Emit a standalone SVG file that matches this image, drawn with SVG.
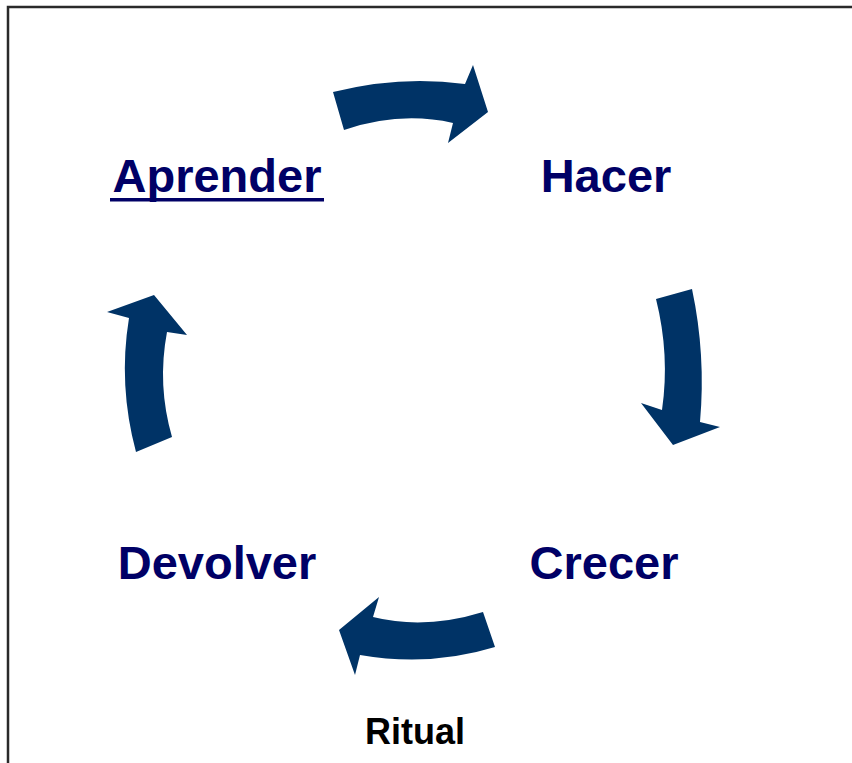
<svg xmlns="http://www.w3.org/2000/svg" width="852" height="763" viewBox="0 0 852 763">
<style>
.lbl{font-family:"Liberation Sans",Arial,sans-serif;font-weight:bold;font-size:47px;fill:#000066;text-anchor:middle}
.rit{font-family:"Liberation Sans",Arial,sans-serif;font-weight:bold;font-size:36px;fill:#000000;text-anchor:middle}
.arr{fill:#003366;stroke:none}
</style>
<rect x="0" y="0" width="852" height="763" fill="#ffffff"/>
<rect x="8" y="7" width="900" height="800" fill="none" stroke="#2a2a2a" stroke-width="2.5"/>
<g id="aprender">
<text class="lbl" x="217" y="192">Aprender</text>
<rect x="110" y="198" width="214" height="3.5" fill="#000066"/>
</g>
<g id="hacer"><text class="lbl" x="606" y="192">Hacer</text></g>
<g id="crecer"><text class="lbl" x="604" y="579">Crecer</text></g>
<g id="devolver"><text class="lbl" x="217" y="579">Devolver</text></g>
<g id="ritual"><text class="rit" x="415" y="744">Ritual</text></g>
<g id="connectors">
<path class="arr" d="M333,92 Q400,75 465,84 L473,65 L488,112 L448,143 L453,123 Q400,111 344,130 Z"/>
<path class="arr" d="M656,299 L692,289 Q706,355 700,422 L720,427 L673,445 L641,403 L662,410 Q670,355 656,299 Z"/>
<path class="arr" d="M339,630 L379,597 L373,617 Q425,630 483,612 L495,647 Q430,667 360,655 L355,675 Z"/>
<path class="arr" d="M107,312 L154,295 L187,335 L167,332 Q157,385 172,437 L136,452 Q118,385 129,318 Z"/>
</g>
</svg>
